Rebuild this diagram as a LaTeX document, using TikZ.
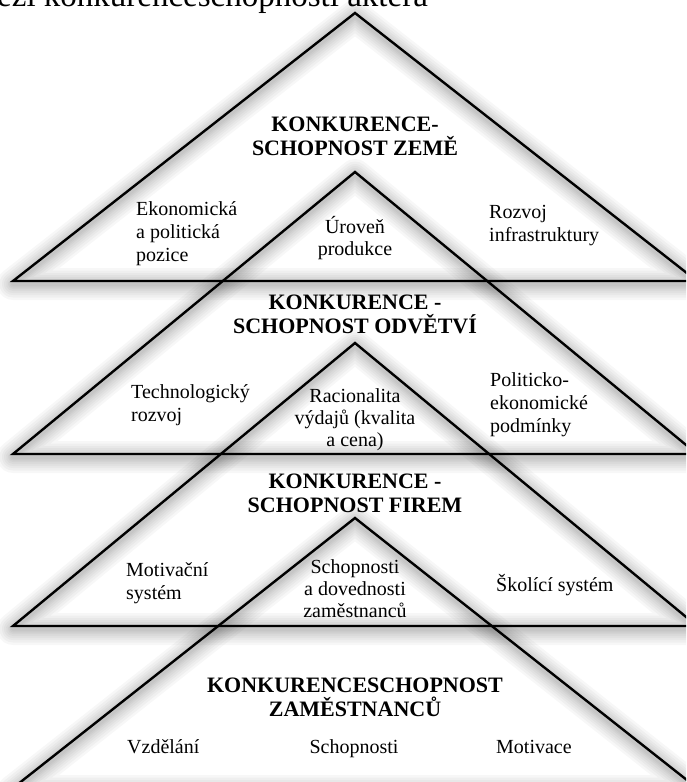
\documentclass[tikz,border=0pt]{standalone}
\usepackage{fontspec}
\setmainfont{Liberation Serif}
\tikzset{
  tri/.style={line width=2.4pt, line join=miter},
  glow/.style={line width=#1, black, opacity=0.03, line join=round},
  side/.style={font=\fontsize{20}{23}\selectfont, align=left, inner sep=0pt},
  mid/.style={font=\fontsize{20}{22}\selectfont, align=center, inner sep=0pt},
  head/.style={font=\bfseries\fontsize{22}{24}\selectfont, align=center, inner sep=0pt},
}
\begin{document}
\begin{tikzpicture}[x=1pt,y=-1pt]
    \useasboundingbox (0,0) rectangle (686,782);
    \clip (0,0) rectangle (686,782);
    % apexes and base corners
    \coordinate (a1) at (355,13);  \coordinate (l1) at (13,281); \coordinate (r1) at (697,281);
    \coordinate (a2) at (355,172); \coordinate (l2) at (13,454); \coordinate (r2) at (697,454);
    \coordinate (a3) at (355,343); \coordinate (l3) at (13,626); \coordinate (r3) at (697,626);
    \coordinate (a4) at (355,518); \coordinate (l4) at (13,788); \coordinate (r4) at (697,788);
    % soft shadow
    \foreach \t in {1,...,4}
      \foreach \w in {32,27,22,18,14,10,7,4}
        \draw[glow=\w pt] ([yshift=-3pt]a\t)--([yshift=-3pt]l\t)--([yshift=-3pt]r\t)--cycle;
    \foreach \t in {1,...,4}
      \draw[tri] (a\t)--(l\t)--(r\t)--cycle;
    \node[anchor=base west, inner sep=0pt, font=\fontsize{33}{36}\selectfont] (cap) at (-3,6) {ezi konkurenceschopnosti aktéra};
    % zeme
    \node[head] (h1) at (355,136) {KONKURENCE-\\SCHOPNOST ZEMĚ};
    \node[side, anchor=west] (e1) at (136,234) {Ekonomická\\a politická\\pozice};
    \node[mid] (p1) at (355,238) {Úroveň\\produkce};
    \node[side, anchor=west] (i1) at (489,226) {Rozvoj\\infrastruktury};
    % odvetvi
    \node[head] (h2) at (355,314) {KONKURENCE -\\SCHOPNOST ODVĚTVÍ};
    \node[side, anchor=west] (t2) at (131,405) {Technologický\\rozvoj};
    \node[mid] (v2) at (355,420) {Racionalita\\výdajů (kvalita\\a cena)};
    \node[side, anchor=west] (k2) at (490,405) {Politicko-\\ekonomické\\podmínky};
    % firmy
    \node[head] (h3) at (355,493) {KONKURENCE -\\SCHOPNOST FIREM};
    \node[side, anchor=west] (m3) at (126,583) {Motivační\\systém};
    \node[mid] (s3) at (355,589) {Schopnosti\\a dovednosti\\zaměstnanců};
    \node[side, anchor=west] (k3) at (496,585) {Školící systém};
    % zamestnanci
    \node[head] (h4) at (355,697) {KONKURENCESCHOPNOST\\ZAMĚSTNANCŮ};
    \node[side, anchor=base west] (v4) at (127,753) {Vzdělání};
    \node[mid, anchor=base] (s4) at (354,753) {Schopnosti};
    \node[side, anchor=base west] (m4) at (496,753) {Motivace};
\end{tikzpicture}
\end{document}
